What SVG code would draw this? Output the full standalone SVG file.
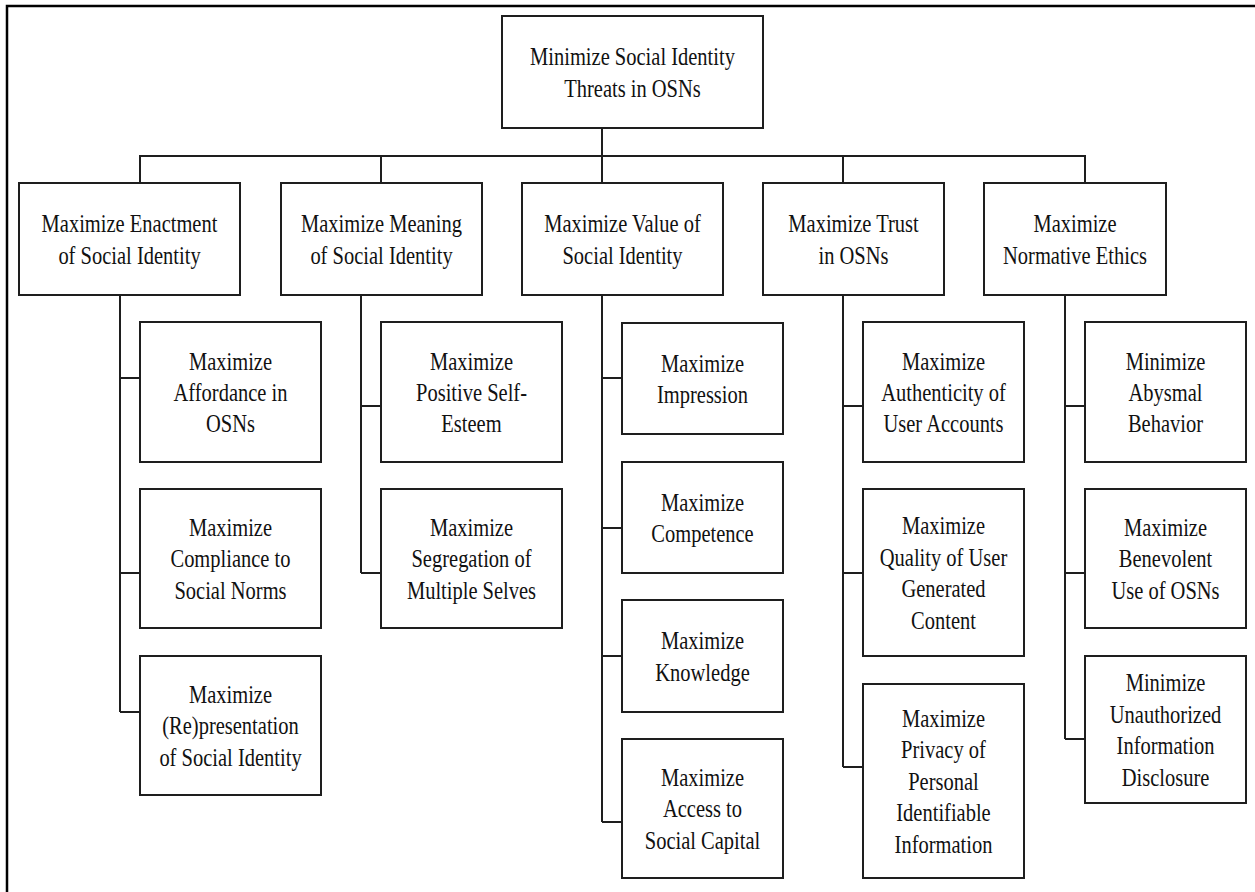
<svg xmlns="http://www.w3.org/2000/svg" width="1255" height="892" viewBox="0 0 1255 892">
<style>
rect.n{fill:#fff;stroke:#1e1e1e;stroke-width:2}
#connectors path{fill:none;stroke:#1e1e1e;stroke-width:2}
text{font-family:"Liberation Serif","Times New Roman",serif;font-size:20.5px;fill:#111;text-anchor:middle}
</style>
<rect x="0" y="0" width="1255" height="892" fill="#fff"/>
<path d="M7,892 V6 H1255" fill="none" stroke="#000" stroke-width="2.5"/>
<g id="connectors">
<path d="M602,128 V183 M140,183 V156 H1085 V183 M381,156 V183 M843,156 V183"/>
<path d="M120,295 V712 M120,378 H140 M120,573 H140 M120,712 H140"/>
<path d="M361,295 V573 M361,406 H381 M361,573 H381"/>
<path d="M602,295 V822 M602,378 H622 M602,528 H622 M602,656 H622 M602,822 H622"/>
<path d="M843,295 V767 M843,406 H863 M843,573 H863 M843,767 H863"/>
<path d="M1065,295 V739 M1065,406 H1085 M1065,573 H1085 M1065,739 H1085"/>
</g>
<g id="root"><rect class="n" x="502" y="16" width="261" height="112"/>
<text transform="translate(632.5,65.25) scale(1,1.24)"><tspan x="0" y="0">Minimize Social Identity</tspan><tspan x="0" y="25.4">Threats in OSNs</tspan></text></g>

<g id="enactment"><rect class="n" x="19" y="183" width="221" height="112"/>
<text transform="translate(129.5,232.25) scale(1,1.24)"><tspan x="0" y="0">Maximize Enactment</tspan><tspan x="0" y="25.4">of Social Identity</tspan></text></g>
<g id="meaning"><rect class="n" x="281" y="183" width="201" height="112"/>
<text transform="translate(381.5,232.25) scale(1,1.24)"><tspan x="0" y="0">Maximize Meaning</tspan><tspan x="0" y="25.4">of Social Identity</tspan></text></g>
<g id="value"><rect class="n" x="522" y="183" width="201" height="112"/>
<text transform="translate(622.5,232.25) scale(1,1.24)"><tspan x="0" y="0">Maximize Value of</tspan><tspan x="0" y="25.4">Social Identity</tspan></text></g>
<g id="trust"><rect class="n" x="763" y="183" width="181" height="112"/>
<text transform="translate(853.5,232.25) scale(1,1.24)"><tspan x="0" y="0">Maximize Trust</tspan><tspan x="0" y="25.4">in OSNs</tspan></text></g>
<g id="ethics"><rect class="n" x="984" y="183" width="182" height="112"/>
<text transform="translate(1075,232.25) scale(1,1.24)"><tspan x="0" y="0">Maximize</tspan><tspan x="0" y="25.4">Normative Ethics</tspan></text></g>

<g id="affordance"><rect class="n" x="140" y="322" width="181" height="140"/>
<text transform="translate(230.5,369.5) scale(1,1.24)"><tspan x="0" y="0">Maximize</tspan><tspan x="0" y="25.4">Affordance in</tspan><tspan x="0" y="50.8">OSNs</tspan></text></g>
<g id="compliance"><rect class="n" x="140" y="489" width="181" height="139"/>
<text transform="translate(230.5,536) scale(1,1.24)"><tspan x="0" y="0">Maximize</tspan><tspan x="0" y="25.4">Compliance to</tspan><tspan x="0" y="50.8">Social Norms</tspan></text></g>
<g id="representation"><rect class="n" x="140" y="656" width="181" height="139"/>
<text transform="translate(230.5,703) scale(1,1.24)"><tspan x="0" y="0">Maximize</tspan><tspan x="0" y="25.4">(Re)presentation</tspan><tspan x="0" y="50.8">of Social Identity</tspan></text></g>

<g id="selfesteem"><rect class="n" x="381" y="322" width="181" height="140"/>
<text transform="translate(471.5,369.5) scale(1,1.24)"><tspan x="0" y="0">Maximize</tspan><tspan x="0" y="25.4">Positive Self-</tspan><tspan x="0" y="50.8">Esteem</tspan></text></g>
<g id="segregation"><rect class="n" x="381" y="489" width="181" height="139"/>
<text transform="translate(471.5,536) scale(1,1.24)"><tspan x="0" y="0">Maximize</tspan><tspan x="0" y="25.4">Segregation of</tspan><tspan x="0" y="50.8">Multiple Selves</tspan></text></g>

<g id="impression"><rect class="n" x="622" y="323" width="161" height="111"/>
<text transform="translate(702.5,371.75) scale(1,1.24)"><tspan x="0" y="0">Maximize</tspan><tspan x="0" y="25.4">Impression</tspan></text></g>
<g id="competence"><rect class="n" x="622" y="462" width="161" height="111"/>
<text transform="translate(702.5,510.75) scale(1,1.24)"><tspan x="0" y="0">Maximize</tspan><tspan x="0" y="25.4">Competence</tspan></text></g>
<g id="knowledge"><rect class="n" x="622" y="600" width="161" height="112"/>
<text transform="translate(702.5,649.25) scale(1,1.24)"><tspan x="0" y="0">Maximize</tspan><tspan x="0" y="25.4">Knowledge</tspan></text></g>
<g id="capital"><rect class="n" x="622" y="739" width="161" height="139"/>
<text transform="translate(702.5,786) scale(1,1.24)"><tspan x="0" y="0">Maximize</tspan><tspan x="0" y="25.4">Access to</tspan><tspan x="0" y="50.8">Social Capital</tspan></text></g>

<g id="authenticity"><rect class="n" x="863" y="322" width="161" height="140"/>
<text transform="translate(943.5,369.5) scale(1,1.24)"><tspan x="0" y="0">Maximize</tspan><tspan x="0" y="25.4">Authenticity of</tspan><tspan x="0" y="50.8">User Accounts</tspan></text></g>
<g id="quality"><rect class="n" x="863" y="489" width="161" height="167"/>
<text transform="translate(943.5,534.25) scale(1,1.24)"><tspan x="0" y="0">Maximize</tspan><tspan x="0" y="25.4">Quality of User</tspan><tspan x="0" y="50.8">Generated</tspan><tspan x="0" y="76.2">Content</tspan></text></g>
<g id="privacy"><rect class="n" x="863" y="684" width="161" height="194"/>
<text transform="translate(943.5,727) scale(1,1.24)"><tspan x="0" y="0">Maximize</tspan><tspan x="0" y="25.4">Privacy of</tspan><tspan x="0" y="50.8">Personal</tspan><tspan x="0" y="76.2">Identifiable</tspan><tspan x="0" y="101.6">Information</tspan></text></g>

<g id="abysmal"><rect class="n" x="1085" y="322" width="161" height="140"/>
<text transform="translate(1165.5,369.5) scale(1,1.24)"><tspan x="0" y="0">Minimize</tspan><tspan x="0" y="25.4">Abysmal</tspan><tspan x="0" y="50.8">Behavior</tspan></text></g>
<g id="benevolent"><rect class="n" x="1085" y="489" width="161" height="139"/>
<text transform="translate(1165.5,536) scale(1,1.24)"><tspan x="0" y="0">Maximize</tspan><tspan x="0" y="25.4">Benevolent</tspan><tspan x="0" y="50.8">Use of OSNs</tspan></text></g>
<g id="disclosure"><rect class="n" x="1085" y="656" width="161" height="147"/>
<text transform="translate(1165.5,691.25) scale(1,1.24)"><tspan x="0" y="0">Minimize</tspan><tspan x="0" y="25.4">Unauthorized</tspan><tspan x="0" y="50.8">Information</tspan><tspan x="0" y="76.2">Disclosure</tspan></text></g>
</svg>
